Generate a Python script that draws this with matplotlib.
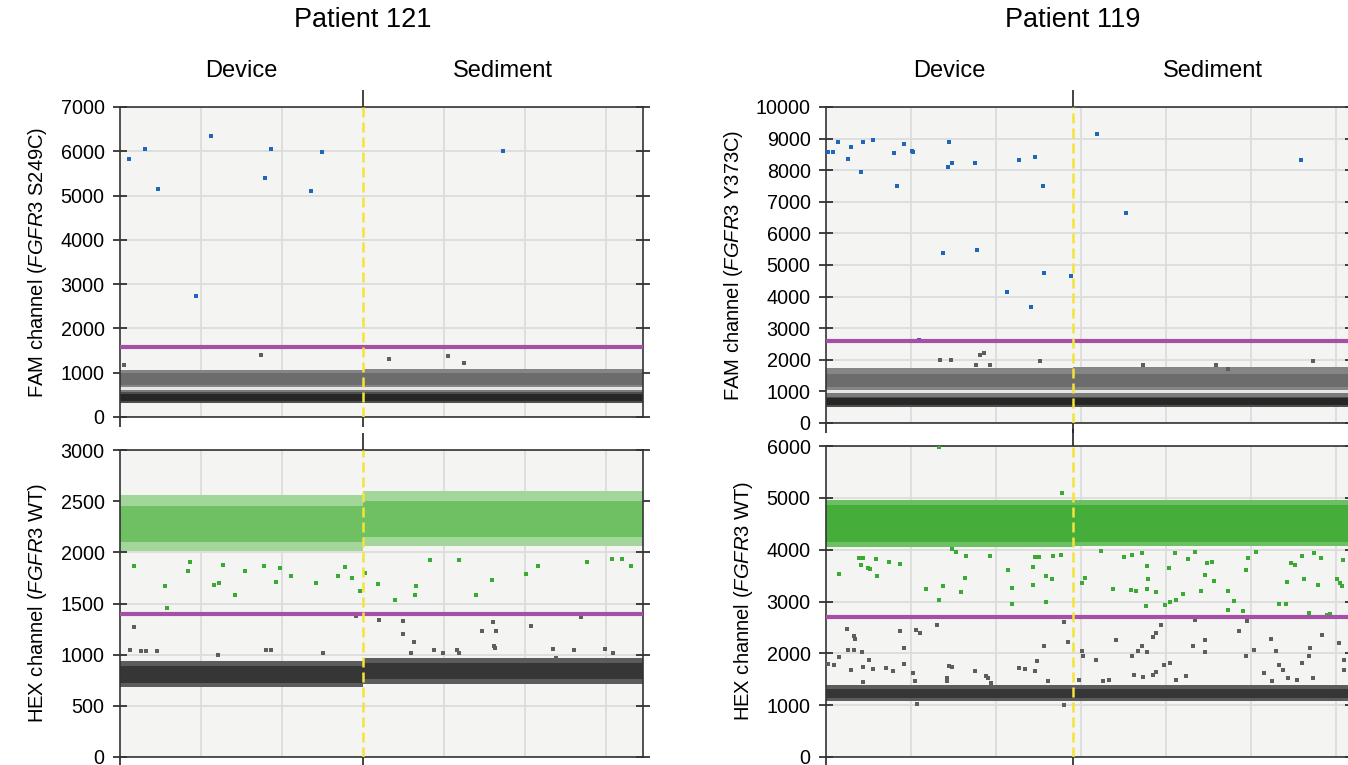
import matplotlib
matplotlib.use("Agg")
import matplotlib.pyplot as plt
from matplotlib.ticker import MultipleLocator
from matplotlib.transforms import blended_transform_factory

plt.rcParams["font.family"] = ["Liberation Sans", "DejaVu Sans"]
plt.rcParams["mathtext.fontset"] = "custom"
plt.rcParams["mathtext.rm"] = "Liberation Sans"
plt.rcParams["mathtext.it"] = "Liberation Sans:italic"

# ---- data (droplet event number vs amplitude) ----
segments = ["Device", "Sediment"]

# Patient 121
p121_events = 32280
p121_split = 15000
p121_fam_threshold = 1580
p121_hex_threshold = 1400

# dense droplet clouds: (low, high) amplitude for [device, sediment]
p121_fam_clouds = {
    "black_fringe": [(320, 560), (320, 560)],
    "black_core": [(370, 510), (370, 510)],
    "gray_strip": [(560, 615), (560, 615)],
    "gap": [(615, 680), (615, 680)],
    "gray_fringe": [(680, 1070), (680, 1080)],
    "gray_core": [(730, 1000), (730, 1000)],
}
p121_hex_clouds = {
    "dark_fringe": [(680, 940), (710, 970)],
    "dark_core": [(720, 885), (760, 915)],
    "sparse_fringe": [(2010, 2560), (2060, 2600)],
    "sparse_core": [(2100, 2450), (2150, 2500)],
}

p121_fam_pos_x = [555, 1540, 2330, 4670, 5600, 8970, 9290, 11780, 12460, 23620]
p121_fam_pos_y = [5825, 6057, 5157, 2736, 6334, 5390, 6057, 5105, 5982, 5997]
p121_fam_neg_x = [250, 8700, 16600, 20230, 21220]
p121_fam_neg_y = [1170, 1394, 1320, 1387, 1214]

p121_hex_pos_x = [860, 2800, 2900, 4200, 4350, 5790, 6110, 6350, 7070, 7710,
                  8900, 9630, 9880, 10540, 12090, 13430, 13880, 14340, 14800,
                  15150, 15910, 17000, 18280, 18200, 19110, 20950, 21960,
                  22980, 25080, 25780, 28820, 30360, 31530, 30990]
p121_hex_pos_y = [1866, 1667, 1458, 1815, 1908, 1677, 1703, 1879, 1580, 1821,
                  1863, 1709, 1844, 1767, 1703, 1767, 1853, 1747, 1625,
                  1799, 1690, 1535, 1670, 1587, 1924, 1927, 1580, 1728,
                  1786, 1863, 1905, 1934, 1866, 1930]
p121_hex_neg_x = [880, 620, 1300, 1610, 2270, 6040, 9010, 9290, 12550, 14580,
                  15970, 17460, 17440, 18140, 17940, 19370, 19920, 20800,
                  20910, 22320, 23010, 23070, 23120, 23230, 25390, 26710,
                  26900, 28050, 28440, 29960, 30450]
p121_hex_neg_y = [1275, 1044, 1034, 1034, 1034, 999, 1044, 1044, 1018, 1381,
                  1336, 1327, 1198, 1121, 1012, 1044, 1021, 1044,
                  1012, 1230, 1317, 1083, 1066, 1233, 1279, 1057,
                  967, 1044, 1365, 1060, 1012]

# Patient 119
p119_events = 30940
p119_split = 14530
p119_fam_threshold = 2600
p119_hex_threshold = 2700

p119_fam_clouds = {
    "black_fringe": [(520, 830), (520, 830)],
    "black_core": [(580, 780), (580, 780)],
    "gray_strip": [(830, 950), (830, 950)],
    "gap": [(950, 1040), (950, 1040)],
    "gray_fringe": [(1040, 1750), (1040, 1760)],
    "gray_core": [(1150, 1550), (1150, 1550)],
}
p119_hex_clouds = {
    "dark_fringe": [(1080, 1390), (1080, 1390)],
    "dark_core": [(1140, 1310), (1140, 1310)],
    "green_fringe": [(4060, 4960), (4080, 4960)],
    "green_core": [(4150, 4870), (4150, 4870)],
}

p119_fam_pos_x = [120, 440, 705, 1320, 1460, 2070, 2190, 2750, 3990, 4190,
                  4575, 5040, 5110, 6860, 7180, 7250, 7400, 8760, 8910,
                  10660, 11340, 12070, 12290, 12750, 12850, 14410, 15920,
                  17620, 27920, 5450]
p119_fam_pos_y = [8565, 8565, 8882, 8345, 8734, 7932, 8882, 8956, 8534, 7489,
                  8819, 8597, 8587, 5369, 8112, 8882, 8238, 8238, 5475,
                  4156, 8333, 3681, 8407, 7489, 4747, 4641, 9146,
                  6646, 8333, 2637]
p119_fam_neg_x = [6720, 7380, 8810, 9030, 9300, 9640, 12610, 18620, 22930,
                  23640, 28670]
p119_fam_neg_y = [1983, 1983, 1825, 2141, 2226, 1825, 1972, 1825, 1825,
                  1720, 1972]

p119_hex_pos_x = [780, 1920, 2170, 2070, 2460, 2560, 2920, 3020, 3680, 4330,
                  5890, 6650, 6890, 6670, 7400, 7670, 7960, 8160, 8230,
                  9640, 10690, 10930, 10950, 12170, 12200, 12270, 12540,
                  12970, 12970, 13310, 13340, 13800, 13870, 15070, 15260,
                  16160, 16910, 17520, 17930, 17980, 18230, 18570, 18840,
                  18860, 18910, 18930, 19400, 19960, 20250, 20150, 20560,
                  20980, 20540, 21270, 21710, 22080, 22320, 22390, 22730,
                  22800, 23660, 23660, 24020, 24510, 24680, 24830, 25290,
                  26650, 27060, 27140, 27380, 27600, 27970, 28090, 28400,
                  28720, 28940, 29130, 29450, 29620, 30040, 30230, 30350,
                  30420]
p119_hex_pos_y = [3526, 3833, 3833, 3705, 3654, 3622, 3827, 3500, 3763, 3718,
                  3237, 3032, 3308, 5981, 4006, 3962, 3192, 3449, 3878,
                  3885, 3609, 3256, 2955, 3673, 3321, 3865, 3865,
                  3494, 3000, 3430, 3885, 3904, 5096, 3353, 3449,
                  3974, 3237, 3865, 3218, 3897, 3199, 3929, 2917,
                  3237, 3686, 3442, 3192, 2936, 2987, 3641, 3032,
                  3141, 3929, 3827, 3962, 3212, 3513, 3737, 3763,
                  3404, 3212, 2840, 3019, 2808, 3609, 3840, 3962,
                  2955, 2955, 3385, 3750, 3705, 3878, 3430, 2776,
                  3929, 3321, 3833, 2744, 2756, 3430, 3353, 3301,
                  3801]
p119_hex_neg_x = [120, 490, 780, 1240, 1270, 1630, 1730, 1660, 2100, 1450,
                  2190, 2530, 2750, 2190, 3530, 3940, 4330, 4600, 4600,
                  5090, 5230, 5300, 5550, 6500, 7130, 7250, 7400, 7110,
                  8760, 9420, 9540, 9710, 11370, 11690, 12270, 12410,
                  12800, 13070, 14000, 14240, 15070, 15090, 14900, 15880,
                  16290, 16660, 17030, 18000, 18340, 18610, 18860, 18140,
                  18670, 19260, 19430, 19260, 19410, 19680, 19870, 20240,
                  20610, 21170, 21580, 21710, 22320, 22300, 24310, 24700,
                  25170, 24750, 25750, 26260, 26190, 26480, 26670, 26870,
                  27160, 27720, 27970, 28460, 28390, 28630, 29190, 30160,
                  30480, 30480, 14000, 5350]
p119_hex_neg_y = [1795, 1776, 1929, 2468, 2071, 2327, 2276, 2058, 2019, 1686,
                  1731, 1865, 1699, 1449, 1712, 1654, 2429, 2103, 1795,
                  1622, 1468, 2442, 2391, 2551, 1532, 1763, 1731, 1474,
                  1667, 1558, 1526, 1429, 1718, 1699, 1654, 1846,
                  2147, 1462, 2603, 2218, 2038, 1955, 1494, 1865,
                  1474, 1494, 2250, 1955, 2038, 2135, 2019, 1590,
                  1538, 1577, 1635, 2314, 2391, 2551, 1776, 1814,
                  1481, 1571, 2147, 2635, 2019, 2250, 2423, 1942,
                  2058, 2615, 1622, 1462, 2276, 2038, 1776, 1686,
                  1526, 1494, 1814, 2103, 1942, 1526, 2346, 2199,
                  1878, 1686, 994, 1032]

# ---- styles ----
cloud_colors = {
    "black_fringe": "#4d4d4d",
    "black_core": "#262626",
    "gray_strip": "#7a7a7a",
    "gap": "#e6e6e4",
    "gray_fringe": "#858585",
    "gray_core": "#6c6c6c",
    "dark_fringe": "#5c5c5c",
    "dark_core": "#363636",
    "sparse_fringe": "#a3d69a",
    "sparse_core": "#6fc063",
    "green_fringe": "#6cbf62",
    "green_core": "#45ae3b",
}
BG = "#f4f4f2"
GRID = "#dcdcdc"
BLUE = "#2067b8"
GRAY = "#5e5e5e"
GREEN = "#3aaa35"
PURPLE = "#a64fa6"
YELLOW = "#f3e43a"

W, H = 1348, 765
fig = plt.figure(figsize=(W / 100, H / 100), dpi=100)


def box(l, t, r, b):
    return [l / W, 1 - b / H, (r - l) / W, (b - t) / H]


def panel(rect, events, split, top, step, clouds, thr, pos, neg, pos_color,
          label):
    ax = fig.add_axes(rect)
    ax.set_facecolor(BG)
    ax.set_xlim(0, events)
    ax.set_ylim(0, top)
    ax.set_axisbelow(True)
    for name, ranges in clouds.items():
        for (lo, hi), (x0, x1) in zip(ranges, [(0, split), (split, events)]):
            ax.fill_between([x0, x1], lo, hi, color=cloud_colors[name],
                            lw=0, zorder=2)
    ax.plot(neg[0], neg[1], "s", color=GRAY, ms=2.8, mew=0, zorder=3)
    ax.plot(pos[0], pos[1], "s", color=pos_color, ms=2.8, mew=0, zorder=3)
    ax.axhline(thr, color=PURPLE, lw=3, zorder=4)
    ax.axvline(split, color=YELLOW, lw=1.8, ls=(0, (4, 2)), zorder=5)

    ax.yaxis.set_major_locator(MultipleLocator(step))
    ax.set_xticks([0, split])
    ax.set_xticklabels([])
    ax.xaxis.set_minor_locator(MultipleLocator(5000))
    ax.grid(True, which="minor", axis="x", color=GRID, lw=1.3)
    ax.grid(True, which="major", axis="y", color=GRID, lw=1.3)
    ax.tick_params(axis="x", which="major", direction="out", length=7,
                   width=1.2, color="#222222")
    ax.tick_params(axis="x", which="minor", length=0)
    ax.tick_params(axis="y", direction="inout", length=10, width=1.2,
                   right=True, labelsize=14.2, pad=6, color="#222222")
    # divider tick also above the panel
    sec = ax.secondary_xaxis("top")
    sec.set_xticks([split])
    sec.set_xticklabels([])
    sec.tick_params(direction="out", length=12, width=1.2, color="#222222")
    sec.spines["top"].set_visible(False)
    for s in ax.spines.values():
        s.set_color("#333333")
        s.set_linewidth(1.2)
    ax.set_ylabel(label, fontsize=14.5, labelpad=8)
    return ax


a1 = panel(box(120, 107, 643, 417), p121_events, p121_split, 7000, 1000,
           p121_fam_clouds, p121_fam_threshold,
           (p121_fam_pos_x, p121_fam_pos_y), (p121_fam_neg_x, p121_fam_neg_y),
           BLUE, r"FAM channel ($\it{FGFR3}$ S249C)")
a2 = panel(box(120, 450, 643, 757), p121_events, p121_split, 3000, 500,
           p121_hex_clouds, p121_hex_threshold,
           (p121_hex_pos_x, p121_hex_pos_y), (p121_hex_neg_x, p121_hex_neg_y),
           GREEN, r"HEX channel ($\it{FGFR3}$ WT)")
a3 = panel(box(826, 107, 1352, 423), p119_events, p119_split, 10000, 1000,
           p119_fam_clouds, p119_fam_threshold,
           (p119_fam_pos_x, p119_fam_pos_y), (p119_fam_neg_x, p119_fam_neg_y),
           BLUE, r"FAM channel ($\it{FGFR3}$ Y373C)")
a4 = panel(box(826, 446, 1352, 757), p119_events, p119_split, 6000, 1000,
           p119_hex_clouds, p119_hex_threshold,
           (p119_hex_pos_x, p119_hex_pos_y), (p119_hex_neg_x, p119_hex_neg_y),
           GREEN, r"HEX channel ($\it{FGFR3}$ WT)")

for ax, title, events, split in [(a1, "Patient 121", p121_events, p121_split),
                                 (a3, "Patient 119", p119_events, p119_split)]:
    tr = blended_transform_factory(ax.transData, fig.transFigure)
    ax.text(split, 1 - 20 / H, title, transform=tr, ha="center",
            va="center", fontsize=19.5)
    centers = [split / 2, (split + events) / 2]
    for name, cx in zip(segments, centers):
        ax.text(cx, 1 - 71 / H, name, transform=tr, ha="center",
                va="center", fontsize=17)

fig.savefig("out.png", dpi=100)
